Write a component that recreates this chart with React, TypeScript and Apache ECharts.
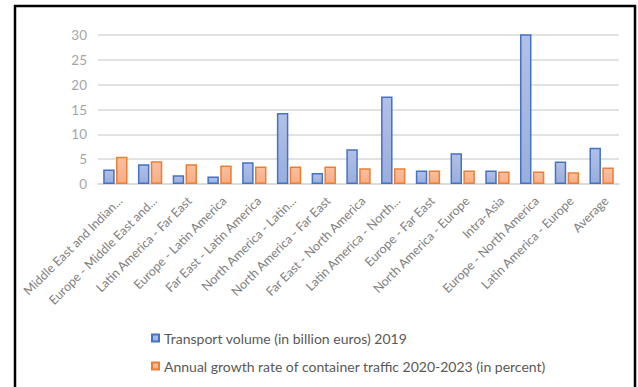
import React, { useEffect, useRef } from "react";
import * as echarts from "echarts";

const categories = [
  "Middle East and Indian...",
  "Europe - Middle East and...",
  "Latin America - Far East",
  "Europe - Latin America",
  "Far East - Latin America",
  "North America - Latin...",
  "North America - Far East",
  "Far East - North America",
  "Latin America - North...",
  "Europe - Far East",
  "North America - Europe",
  "Intra-Asia",
  "Europe - North America",
  "Latin America - Europe",
  "Average",
];
const transportVolume = [2.9, 4.0, 1.75, 1.5, 4.4, 14.3, 2.2, 7.0, 17.6, 2.7, 6.2, 2.7, 30.3, 4.55, 7.3];
const growthRate = [5.5, 4.6, 4.0, 3.75, 3.5, 3.5, 3.5, 3.15, 3.15, 2.7, 2.7, 2.5, 2.5, 2.35, 3.3];
const seriesNames = [
  "Transport volume (in billion euros) 2019",
  "Annual growth rate of container traffic 2020-2023 (in percent)",
];
const yTicks = { min: 0, max: 30, interval: 5 };

const FONT = "Lato, 'Open Sans', sans-serif";

export default function App() {
  const ref = useRef<HTMLDivElement>(null);
  useEffect(() => {
    if (!ref.current) return;
    const chart = echarts.init(ref.current, undefined, { renderer: "svg" });
    const blueFill = new echarts.graphic.LinearGradient(0, 0, 0, 1, [
      { offset: 0, color: "#b1c0e6" },
      { offset: 1, color: "#9aaedd" },
    ]);
    const orangeFill = new echarts.graphic.LinearGradient(0, 0, 0, 1, [
      { offset: 0, color: "#f9c0a0" },
      { offset: 1, color: "#f6ad86" },
    ]);
    chart.setOption({
      animation: false,
      backgroundColor: "#ffffff",
      textStyle: { fontFamily: FONT },
      graphic: [
        {
          type: "rect",
          shape: { x: 15, y: 6, width: 620, height: 400 },
          style: { fill: "none", stroke: "#000000", lineWidth: 2.5 },
          silent: true,
        },
      ],
      grid: { left: 98, right: 19, top: 35, bottom: 203, containLabel: false },
      legend: {
        orient: "vertical",
        left: 146,
        top: 326,
        itemGap: 14,
        itemWidth: 7,
        itemHeight: 7,
        icon: "rect",
        textStyle: { fontSize: 14, color: "#595959", fontFamily: FONT },
        data: seriesNames,
      },
      xAxis: {
        type: "category",
        data: categories,
        axisLine: { lineStyle: { color: "#d9d9d9", width: 1.5 } },
        axisTick: { show: false },
        axisLabel: {
          rotate: 45,
          interval: 0,
          fontSize: 12.5,
          color: "#7f7f7f",
          margin: 10,
          verticalAlign: "top",
          fontFamily: FONT,
        },
      },
      yAxis: {
        type: "value",
        min: yTicks.min,
        max: yTicks.max,
        interval: yTicks.interval,
        axisLine: { show: false },
        axisTick: { show: false },
        splitLine: { lineStyle: { color: "#d9d9d9", width: 1.5 } },
        axisLabel: { fontSize: 13.5, color: "#a6a6a6", margin: 11, fontFamily: FONT },
      },
      series: [
        {
          name: seriesNames[0],
          type: "bar",
          data: transportVolume,
          barGap: "12%",
          barCategoryGap: "30%",
          itemStyle: { color: blueFill, borderColor: "#4472c4", borderWidth: 1.5 },
        },
        {
          name: seriesNames[1],
          type: "bar",
          data: growthRate,
          itemStyle: { color: orangeFill, borderColor: "#ed7d31", borderWidth: 1.5 },
        },
      ],
    });
    return () => chart.dispose();
  }, []);
  return (
    <div
      ref={ref}
      style={{ position: "fixed", left: 0, top: 0, width: 638, height: 387, background: "#fff" }}
    />
  );
}
